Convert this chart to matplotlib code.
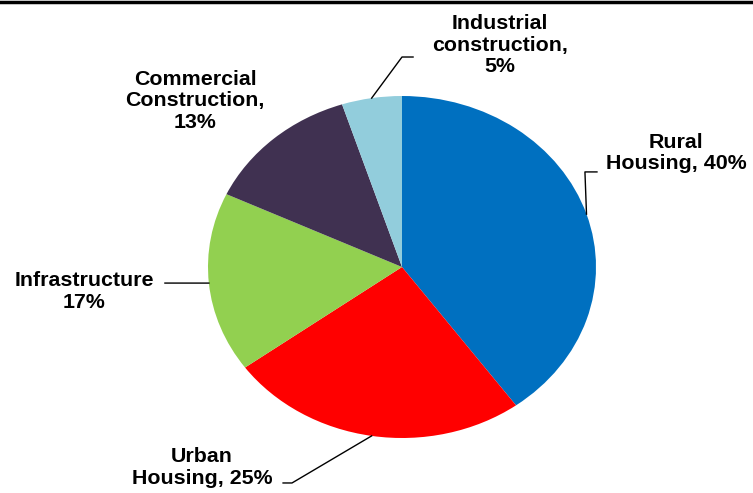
import numpy as np
import matplotlib
matplotlib.use("Agg")
import matplotlib.pyplot as plt
from matplotlib.lines import Line2D

# Construction segments, clockwise from 12 o'clock
segments = ["Rural Housing", "Urban Housing", "Infrastructure",
            "Commercial Construction", "Industrial construction"]
shares = [40, 25, 17, 13, 5]
labels = ["Rural\nHousing, 40%", "Urban\nHousing, 25%", "Infrastructure\n17%",
          "Commercial\nConstruction,\n13%", "Industrial\nconstruction,\n5%"]
colors = ["#0070C0", "#FF0000", "#92D050", "#403151", "#92CDDC"]

W, H = 753, 493
fig = plt.figure(figsize=(W / 100, H / 100), dpi=100)
fig.patch.set_facecolor("white")

# Axes box spans the (slightly flattened) pie
ax = fig.add_axes([208 / W, (H - 438) / H, 388 / W, 342 / H])
wedges, _ = ax.pie(shares, colors=colors, startangle=90, counterclock=False,
                   radius=1.0, wedgeprops=dict(linewidth=0))
ax.set_aspect("auto")
ax.set_xlim(-1, 1)
ax.set_ylim(-1, 1)
ax.axis("off")

# Label placement (text centre) and leader-line path beyond the rim
text_pos = [(1.412, 0.667), (-1.031, -1.173), (-1.639, -0.143),
            (-1.067, 0.971), (0.505, 1.298)]
leader_path = [
    [(0.943, 0.556), (1.005, 0.556)],
    [(-0.567, -1.263), (-0.613, -1.263)],
    [(-1.222, -0.094)],
    None,
    [(0.0, 1.228), (0.057, 1.228)],
]

font = dict(family=["Liberation Sans", "DejaVu Sans"], fontsize=15.4,
            fontweight="bold", color="black")

for w, lab, pos, path in zip(wedges, labels, text_pos, leader_path):
    mid = np.deg2rad((w.theta1 + w.theta2) / 2)
    start = (np.cos(mid), np.sin(mid))
    if path is not None:
        pts = [start] + path
        xs, ys = zip(*pts)
        ax.plot(xs, ys, color="black", lw=1.0, clip_on=False)
    ax.text(pos[0], pos[1], lab, ha="center", va="center",
            multialignment="center", linespacing=1.16, clip_on=False, **font)

# Rule along the top edge of the figure
fig.add_artist(Line2D([0, 1], [1 - 1.5 / H, 1 - 1.5 / H], transform=fig.transFigure,
                      color="black", lw=2.5))

fig.savefig("out.png", dpi=100)
